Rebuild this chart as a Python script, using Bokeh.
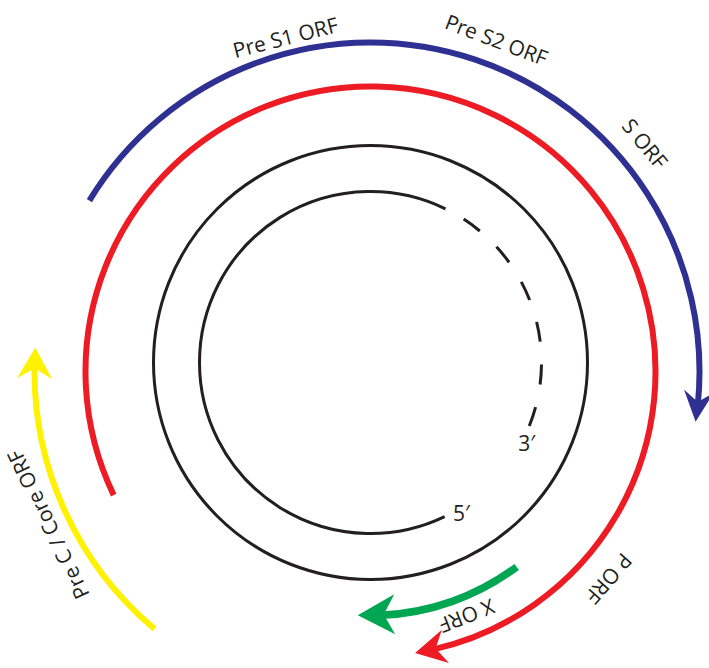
import numpy as np
from bokeh.plotting import figure
from bokeh.models import Range1d, ColumnDataSource
from bokeh.core.properties import value
from bokeh.embed import file_html
from bokeh.resources import INLINE

# ---------------- data (angles in degrees, 0 = 3 o'clock, counter-clockwise positive) -------------
orf_names = ["Pre S1 / Pre S2 / S", "P", "Pre C / Core", "X"]
orf_start_deg = [148.7, 205.7, 230.0, -53.2]
orf_tip_deg = [-8.8, -81.0, 175.9, -93.0]
orf_colors = ["#2E3192", "#ED1C24", "#FFF200", "#00A651"]

label_texts = ["Pre S1 ORF", "Pre S2 ORF", "S ORF", "P ORF", "X ORF", "Pre C / Core ORF"]
label_pos_deg = [104.3, 69.2, 39.7, -41.0, -68.5, 205.4]

plus_solid_deg = [64.0, 295.7]      # plus strand, solid part (anticlockwise from first to second)
plus_dashed_deg = [-21.8, 64.0]     # plus strand, incomplete part ending at 3'
end_texts = ["3\u2032", "5\u2032"]
end_pos_deg = [-27.4, -58.9]

# ---------------- layout ----------------
W_PX, H_PX = 709, 668
CX, CY = 370.0, -371.0   # centre of ORF arcs
BX, BY = 370.0, -362.0   # centre of genome circles
orf_radius = [329, 285, 336, 244]
orf_width = [6, 6, 6, 7.5]
head_L = [31, 31, 31, 37]
head_W = [15, 17, 17.5, 20]
head_N = [20, 21, 21, 26]
label_radius = [345, 355, 357, 316, 263, 357]
outer_r, inner_r, end_r = 217, 171, 176
INK = "#231F20"

p = figure(width=W_PX, height=H_PX, x_range=Range1d(0, W_PX), y_range=Range1d(-H_PX, 0),
           output_backend="svg", toolbar_location=None, min_border=0,
           x_axis_location=None, y_axis_location=None)
p.outline_line_color = None
p.grid.visible = False
p.background_fill_color = "white"

rad = np.radians

# genome circles
p.circle(x=[BX], y=[BY], radius=outer_r, fill_color=None, line_color=INK, line_width=3)
p.arc(x=[BX], y=[BY], radius=inner_r, start_angle=rad(plus_solid_deg[0]),
      end_angle=rad(plus_solid_deg[1]), direction="anticlock", line_color=INK, line_width=3)
p.arc(x=[BX], y=[BY], radius=inner_r, start_angle=rad(plus_dashed_deg[0]),
      end_angle=rad(plus_dashed_deg[1]), direction="anticlock", line_color=INK, line_width=3,
      line_dash="20 23")

# ORF arrows
for s, t, col, r, w, L, W, N in zip(orf_start_deg, orf_tip_deg, orf_colors, orf_radius,
                                    orf_width, head_L, head_W, head_N):
    shaft_end = t + np.degrees((N - 3) / r)
    p.arc(x=[CX], y=[CY], radius=r, start_angle=rad(s), end_angle=rad(shaft_end),
          direction="clock", line_color=col, line_width=w)
    a = rad(t)
    tip = np.array([CX + r * np.cos(a), CY + r * np.sin(a)])
    b = a + L / r
    base = np.array([CX + r * np.cos(b), CY + r * np.sin(b)])
    d = tip - base
    d /= np.hypot(*d)
    n = np.array([-d[1], d[0]])
    c1 = tip - L * d + W * n
    c2 = tip - L * d - W * n
    notch = tip - N * d
    pts = [tip, c1, notch, c2]
    p.patch(x=[q[0] for q in pts], y=[q[1] for q in pts], fill_color=col, line_color=None)

# ORF labels
la = rad(np.array(label_pos_deg))
lr = np.array(label_radius)
src = ColumnDataSource(dict(x=CX + lr * np.cos(la), y=CY + lr * np.sin(la),
                            text=label_texts, angle=la - np.pi / 2))
p.text(x="x", y="y", text="text", angle="angle", source=src, text_align="center",
       text_baseline="middle", text_font=value("Open Sans"), text_font_size="21px",
       text_color=INK)

ea = rad(np.array(end_pos_deg))
src2 = ColumnDataSource(dict(x=BX + end_r * np.cos(ea), y=BY + end_r * np.sin(ea), text=end_texts))
p.text(x="x", y="y", text="text", source=src2, text_align="center", text_baseline="middle",
       text_font=value("Open Sans"), text_font_size="21px", text_color=INK)

open("out.html", "w").write(file_html(p, INLINE))
